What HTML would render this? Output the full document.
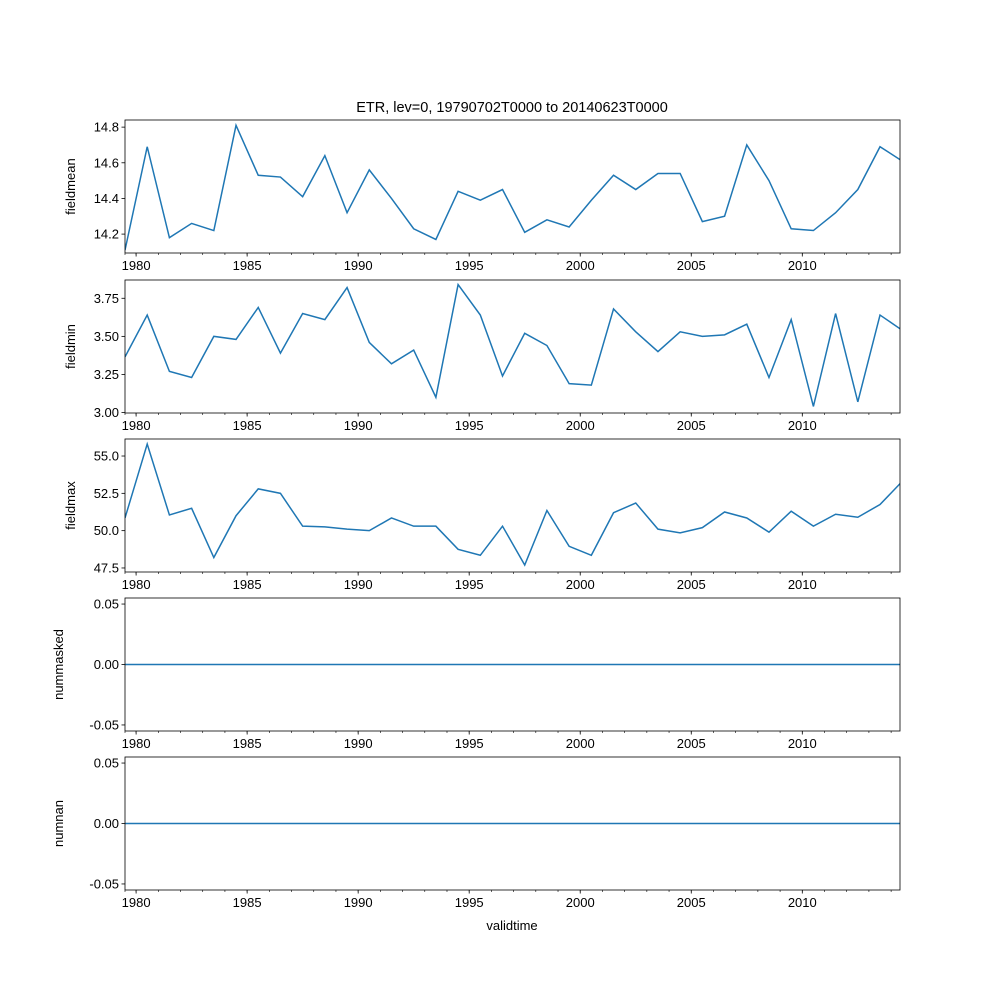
<!DOCTYPE html>
<html><head><meta charset="utf-8"><style>
body{margin:0;background:#fff}
svg{display:block;font-family:"Liberation Sans","DejaVu Sans",sans-serif}
</style></head><body>
<svg id="chart" width="1000" height="1000" viewBox="0 0 1000 1000">
<text x="512" y="112" font-size="14.5" text-anchor="middle">ETR, lev=0, 19790702T0000 to 20140623T0000</text>
<text x="512" y="930" font-size="13" text-anchor="middle">validtime</text>
</svg>
<script>
const years=[1979,1980,1981,1982,1983,1984,1985,1986,1987,1988,1989,1990,1991,1992,1993,1994,1995,1996,1997,1998,1999,2000,2001,2002,2003,2004,2005,2006,2007,2008,2009,2010,2011,2012,2013,2014];
const fieldmean=[14.11,14.69,14.18,14.26,14.22,14.81,14.53,14.52,14.41,14.64,14.32,14.56,14.40,14.23,14.17,14.44,14.39,14.45,14.21,14.28,14.24,14.39,14.53,14.45,14.54,14.54,14.27,14.30,14.70,14.50,14.23,14.22,14.32,14.45,14.69,14.61];
const fieldmin=[3.365,3.64,3.27,3.23,3.50,3.48,3.69,3.39,3.65,3.61,3.82,3.46,3.32,3.41,3.10,3.84,3.64,3.24,3.52,3.44,3.19,3.18,3.68,3.53,3.40,3.53,3.50,3.51,3.58,3.23,3.61,3.04,3.65,3.07,3.64,3.54];
const fieldmax=[50.85,55.8,51.05,51.5,48.2,51.0,52.8,52.5,50.3,50.25,50.1,50.0,50.85,50.3,50.3,48.75,48.35,50.3,47.7,51.35,48.95,48.35,51.2,51.85,50.1,49.85,50.2,51.25,50.85,49.9,51.3,50.3,51.1,50.9,51.75,53.3];
const nummasked=years.map(()=>0);
const numnan=years.map(()=>0);
const xTicks=[1980,1985,1990,1995,2000,2005,2010];
const panels=[
 {name:'fieldmean',data:fieldmean,top:120,min:14.094,max:14.84,ticks:[14.2,14.4,14.6,14.8],fmt:v=>v.toFixed(1)},
 {name:'fieldmin',data:fieldmin,top:280,min:2.997,max:3.87,ticks:[3.0,3.25,3.5,3.75],fmt:v=>v.toFixed(2)},
 {name:'fieldmax',data:fieldmax,top:439,min:47.23,max:56.14,ticks:[47.5,50.0,52.5,55.0],fmt:v=>v.toFixed(1)},
 {name:'nummasked',data:nummasked,top:598,min:-0.055,max:0.055,ticks:[-0.05,0,0.05],fmt:v=>v.toFixed(2)},
 {name:'numnan',data:numnan,top:757,min:-0.055,max:0.055,ticks:[-0.05,0,0.05],fmt:v=>v.toFixed(2)}
];
const L=125,R=900,H=133;
const x0=1979.5,x1=2014.4;
const xs=v=>L+(v-x0)/(x1-x0)*(R-L);
const NS='http://www.w3.org/2000/svg';
const svg=document.getElementById('chart');
function mk(t,a,p){const e=document.createElementNS(NS,t);for(const k in a)e.setAttribute(k,a[k]);(p||svg).appendChild(e);return e;}
const defs=mk('defs',{});
panels.forEach((p,pi)=>{
 const cp=mk('clipPath',{id:'clip'+pi},defs);
 mk('rect',{x:L,y:p.top,width:R-L,height:H},cp);
 const g=mk('g',{});
 
 
 const ys=v=>p.top+H-(v-p.min)/(p.max-p.min)*H;
 const bot=p.top+H;
 const pts=p.data.map((v,i)=>xs(years[i]+0.5)+','+ys(v)).join(' ');
 const pl=mk('polyline',{points:pts,fill:'none',stroke:'#1f77b4','stroke-width':1.5,'clip-path':'url(#clip'+pi+')'},g);
 
 
 const fr=mk('rect',{x:L,y:p.top,width:R-L,height:H,fill:'none',stroke:'#000','stroke-width':0.8},g);
 
 
 for(let y=1980;y<=2014;y++){mk('line',{x1:xs(y),x2:xs(y),y1:bot,y2:bot+2,stroke:'#000','stroke-width':0.6},g);}
 mk('line',{x1:L,x2:L,y1:bot,y2:bot+2,stroke:'#000','stroke-width':0.6},g);
 xTicks.forEach(t=>{
  mk('line',{x1:xs(t),x2:xs(t),y1:bot,y2:bot+3.5,stroke:'#000','stroke-width':0.8},g);
  const tx=mk('text',{x:xs(t),y:bot+17,'font-size':13,'text-anchor':'middle'},g);
  tx.textContent=t;
  
  
 });
 p.ticks.forEach(t=>{
  const y=ys(t);
  mk('line',{x1:L-3.5,x2:L,y1:y,y2:y,stroke:'#000','stroke-width':0.8},g);
  const tx=mk('text',{x:L-6,y:y+4.5,'font-size':13,'text-anchor':'end'},g);
  tx.textContent=p.fmt(t);
  
  
 });
 const yl=p.name==='fieldmean'||p.name==='fieldmin'||p.name==='fieldmax'?75:63;
 const lab=mk('text',{x:yl,y:p.top+H/2,'font-size':13,'text-anchor':'middle',transform:`rotate(-90 ${yl} ${p.top+H/2})`},g);
 lab.textContent=p.name;
 
 
});
</script>
</body></html>
